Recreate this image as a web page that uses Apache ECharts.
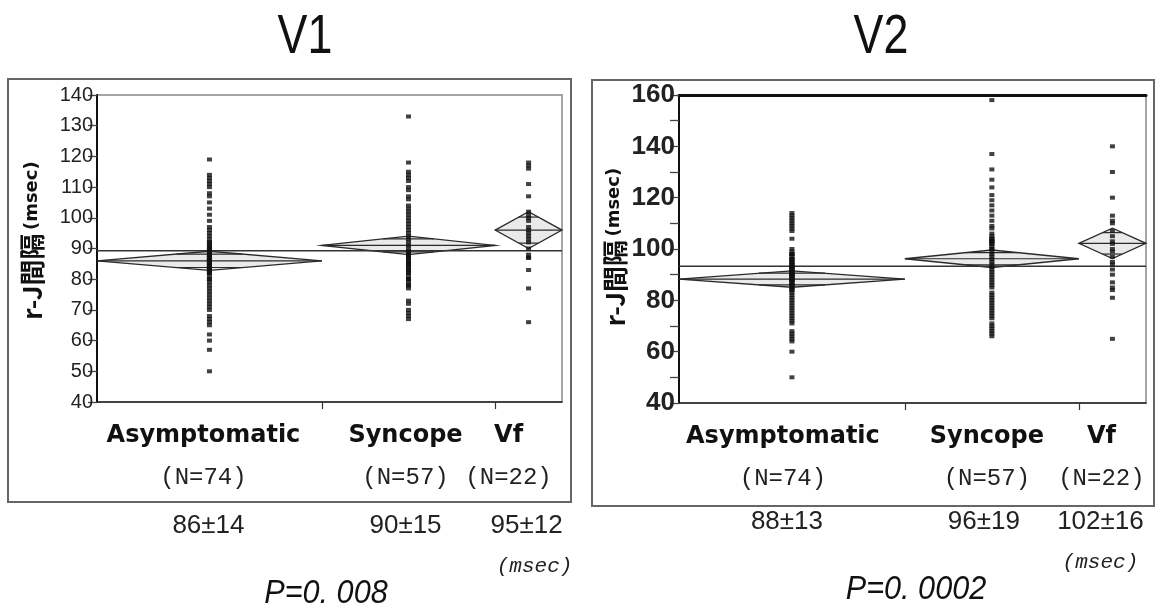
<!DOCTYPE html>
<html>
<head>
<meta charset="utf-8">
<script src="https://cdn.jsdelivr.net/npm/echarts@6.0.0/dist/echarts.min.js"></script>
<style>
html,body{margin:0;padding:0;background:#fff;}
#chart{width:1163px;height:612px;}
</style>
</head>
<body>
<div id="chart"></div>
<script>
// ---------------- DATA ----------------
const groups = ['Asymptomatic', 'Syncope', 'Vf'];
const groupN = [74, 57, 22];
const panelTitles = ['V1', 'V2'];
const pValues = ['P=0. 008', 'P=0. 0002'];
const yTitle = 'r-J間隔';
const yUnit = '(msec)';
const unitNote = '(msec)';

// V1 r-J interval values (msec) read from the dot columns
const v1Asym = [119,114,113,112,111,110,108,107,105,103,101,99,97,
  96,95,94,93,92,91,90,89,88,87,86,85,84,83,82,81,80,79,78,77,76,75,74,73,72,71,70,
  68,67,66,65,62,60,57,50,
  80,82,83,84,84,85,85,86,86,86,87,87,88,88,89,90,91,92,82,83,85,86,87,88,84,90];
const v1Sync = [133,118,115,114,113,112,110,109,107,106,
  104,103,102,101,100,99,98,97,96,95,94,93,92,91,90,89,88,87,86,85,84,83,82,81,80,79,78,77,
  73,72,70,69,68,67,
  80,82,83,84,85,85,86,87,88,88,89,80,78];
const v1Vf = [118,117,116,111,107,102,101,100,99,97,96,95,94,93,92,90,88,87,87,83,77,66];

// V2 r-J interval values (msec)
const v2Asym = [114,113,112,111,110,109,108,107,104,
  100,99,98,97,96,95,94,93,92,91,90,89,88,87,86,85,84,83,82,81,80,79,78,77,76,75,74,73,72,71,
  68,67,66,65,64,60,50,
  84,85,86,87,88,88,89,89,90,90,90,91,91,92,92,93,93,94,95,96,86,88,90,92,94,96,98,98];
const v2Sync = [158,137,131,127,124,121,119,117,115,113,111,109,108,106,
  104,103,102,101,100,99,98,97,96,95,94,93,92,91,90,89,88,87,86,85,83,82,81,80,79,78,77,76,75,74,73,71,70,69,68,67,66,
  100,102,104,103,105,103];
const v2Vf = [140,130,120,113,111,110,107,105,103,102,100,99,97,95,94,92,90,87,85,84,81,65];

// Means diamonds: group mean and 95% CI half-width (read from the diamonds)
const v1Means = [86, 91, 96];
const v1CI = [3.1, 3.0, 6.0];
const v2Means = [88.3, 96.2, 102.2];
const v2CI = [3.2, 3.4, 5.9];

// Summary text under each panel
const v1Stats = ['86±14', '90±15', '95±12'];
const v2Stats = ['88±13', '96±19', '102±16'];

// Y axis ranges / ticks
const v1Y = {min: 40, max: 140, step: 10, labelStep: 10};
const v2Y = {min: 40, max: 160, step: 10, labelStep: 20};

// ---------------- BUILD ----------------
const SANS = "'Liberation Sans',Arial,sans-serif";
const MONO = "'Liberation Mono','DejaVu Sans Mono',monospace";
const totalN = groupN.reduce((a, b) => a + b, 0);
const starts = [], ends = [], centers = [];
(function () {
  let acc = 0;
  groupN.forEach(n => { starts.push(acc); centers.push(acc + n / 2); acc += n; ends.push(acc); });
})();
const bounds = ends.slice(0, -1);

function nearestIdx(v) {
  let best = 0, d = Infinity;
  centers.forEach((c, i) => { if (Math.abs(c - v) < d) { d = Math.abs(c - v); best = i; } });
  return best;
}
function grandMean(means) {
  let s = 0;
  means.forEach((m, i) => { s += m * groupN[i]; });
  return s / totalN;
}
// label anchors: group centres nudged by a small pixel offset (style only)
function anchors(pxShift, gridWidth) {
  return centers.map((c, i) => c + pxShift[i] * totalN / gridWidth);
}

function mainX(gridIndex, gridWidth, shifts) {
  return {
    type: 'value', gridIndex, min: 0, max: totalN, position: 'bottom',
    splitLine: {show: false},
    axisLine: {show: true, lineStyle: {color: '#222', width: 1.5}},
    axisTick: {show: true, customValues: bounds, length: 7, lineStyle: {color: '#333', width: 1.2}},
    axisLabel: {
      show: true, customValues: anchors(shifts, gridWidth), margin: 13, interval: 0,
      showMinLabel: true, showMaxLabel: true, hideOverlap: false,
      formatter: v => { const i = nearestIdx(v); return '{n|' + groups[i] + '}\n{c|(N=' + groupN[i] + ')}'; },
      rich: {
        n: {fontFamily: "'DejaVu Sans',sans-serif", fontWeight: 'bold', fontSize: 24, color: '#111', lineHeight: 42},
        c: {fontFamily: MONO, fontSize: 24, color: '#222', lineHeight: 42}
      }
    }
  };
}
function statsX(gridIndex, gridWidth, stats, offset, shifts, msecShift) {
  return {
    type: 'value', gridIndex, min: 0, max: totalN, position: 'bottom', offset,
    splitLine: {show: false}, axisLine: {show: false}, axisTick: {show: false},
    axisLabel: {
      show: true, customValues: anchors(shifts, gridWidth), margin: 0, interval: 0,
      showMinLabel: true, showMaxLabel: true, hideOverlap: false,
      formatter: v => { const i = nearestIdx(v); return '{s|' + stats[i] + '}' + (i === groups.length - 1 ? '\n{m|' + unitNote + '}' : ''); },
      rich: {
        s: {fontFamily: SANS, fontSize: 26, color: '#222', lineHeight: 40},
        m: {fontFamily: MONO, fontStyle: 'italic', fontSize: 21, color: '#222', lineHeight: 40, padding: [0, 0, 0, msecShift]}
      }
    }
  };
}
function yAx(gridIndex, cfg, fontSize, bold, nameGap, namePad) {
  return {
    type: 'value', gridIndex, min: cfg.min, max: cfg.max, interval: cfg.step,
    splitLine: {show: false},
    axisLine: {show: true, lineStyle: {color: '#111', width: 2}},
    axisTick: {show: true, length: 9, lineStyle: {color: '#444', width: 1.3}},
    axisLabel: {
      margin: 4, color: '#222', fontFamily: SANS, fontSize, fontWeight: bold ? 'bold' : 'normal',
      showMinLabel: true, showMaxLabel: true,
      formatter: v => (v % cfg.labelStep === 0 ? String(v) : '')
    },
    name: '{a|' + yTitle + '} {b|' + yUnit + '}',
    nameLocation: 'middle', nameRotate: 90, nameGap,
    nameTextStyle: {
      rich: {
        a: {fontFamily: "'Noto Sans CJK JP',sans-serif", fontWeight: 'bold', fontSize: 26, color: '#111', padding: [0, 0, 0, namePad > 0 ? namePad : 0]},
        b: {fontFamily: "'DejaVu Sans',sans-serif", fontWeight: 'bold', fontSize: 18, color: '#111', padding: [0, namePad < 0 ? -namePad : 0, 0, 0]}
      }
    }
  };
}

function diamondItem(params, api) {
  const x0 = api.value(0), x1 = api.value(1), m = api.value(2), h = api.value(3);
  const xc = (x0 + x1) / 2;
  const L = api.coord([x0, m]), R = api.coord([x1, m]);
  const T = api.coord([xc, m + h]), B = api.coord([xc, m - h]);
  const k = Math.SQRT1_2;
  const half = (R[0] - L[0]) / 2;
  const ow = half * (1 - k);
  const yu = api.coord([xc, m + h * k])[1], yd = api.coord([xc, m - h * k])[1];
  const cx = T[0];
  const ls = {stroke: '#2a2a2a', lineWidth: 1.2, fill: null};
  return {
    type: 'group',
    children: [
      {type: 'polygon', shape: {points: [L, T, R, B]}, style: {fill: 'rgba(160,160,160,0.22)', stroke: '#2a2a2a', lineWidth: 1.3}},
      {type: 'line', shape: {x1: L[0], y1: L[1], x2: R[0], y2: R[1]}, style: ls},
      {type: 'line', shape: {x1: cx - ow, y1: yu, x2: cx + ow, y2: yu}, style: ls},
      {type: 'line', shape: {x1: cx - ow, y1: yd, x2: cx + ow, y2: yd}, style: ls}
    ]
  };
}

function panelSeries(xIdx, yIdx, cols, means, ci) {
  const pts = [];
  cols.forEach((col, i) => col.forEach(v => pts.push([centers[i], v])));
  const gm = grandMean(means);
  return [
    {type: 'custom', xAxisIndex: xIdx, yAxisIndex: yIdx, renderItem: diamondItem, z: 2,
      data: groupN.map((n, i) => [starts[i], ends[i], means[i], ci[i]])},
    {type: 'line', xAxisIndex: xIdx, yAxisIndex: yIdx, symbol: 'none', z: 3,
      lineStyle: {color: '#333', width: 1.5}, data: [[0, gm], [totalN, gm]]},
    {type: 'scatter', xAxisIndex: xIdx, yAxisIndex: yIdx, symbol: 'rect', symbolSize: [5, 4], z: 4,
      itemStyle: {color: '#111'}, data: pts}
  ];
}

function txt(x, y, text, font, sx) {
  return {type: 'text', x, y, scaleX: sx, scaleY: 1,
    style: {text, font, fill: '#111', align: 'center', verticalAlign: 'middle'}};
}

const W1 = 465, W2 = 467;
const chart = echarts.init(document.getElementById('chart'), null, {renderer: 'canvas'});
const option = {
  animation: false,
  backgroundColor: '#fff',
  grid: [
    {left: 97, top: 95, width: W1, height: 307, show: true, borderColor: '#888', borderWidth: 1.5},
    {left: 679, top: 95, width: W2, height: 308, show: true, borderColor: '#888', borderWidth: 1.5}
  ],
  xAxis: [
    mainX(0, W1, [-6, -3, -20]),
    statsX(0, W1, v1Stats, 104, [-1, -3, -2], 16),
    mainX(1, W2, [-9, -5, -11]),
    statsX(1, W2, v2Stats, 99, [-5, -8, -12], 0),
    {type: 'value', gridIndex: 1, min: 0, max: totalN, position: 'top', splitLine: {show: false},
      axisLine: {show: true, lineStyle: {color: '#111', width: 3}}, axisTick: {show: false}, axisLabel: {show: false}}
  ],
  yAxis: [
    yAx(0, v1Y, 20, false, 52, 16),
    yAx(1, v2Y, 26, true, 50, 4)
  ],
  series: [].concat(
    panelSeries(0, 0, [v1Asym, v1Sync, v1Vf], v1Means, v1CI),
    panelSeries(2, 1, [v2Asym, v2Sync, v2Vf], v2Means, v2CI)
  ),
  graphic: [
    {type: 'rect', shape: {x: 8, y: 79, width: 563, height: 423}, style: {fill: null, stroke: '#666', lineWidth: 2}, z: -1},
    {type: 'rect', shape: {x: 592, y: 80, width: 562, height: 426}, style: {fill: null, stroke: '#666', lineWidth: 2}, z: -1},
    txt(305, 38, panelTitles[0], '56px ' + SANS, 0.8),
    txt(881, 38, panelTitles[1], '56px ' + SANS, 0.8),
    txt(326, 594, pValues[0], 'italic 34px ' + SANS, 0.9),
    txt(916, 590, pValues[1], 'italic 34px ' + SANS, 0.9)
  ]
};
chart.setOption(option);
</script>
</body>
</html>
